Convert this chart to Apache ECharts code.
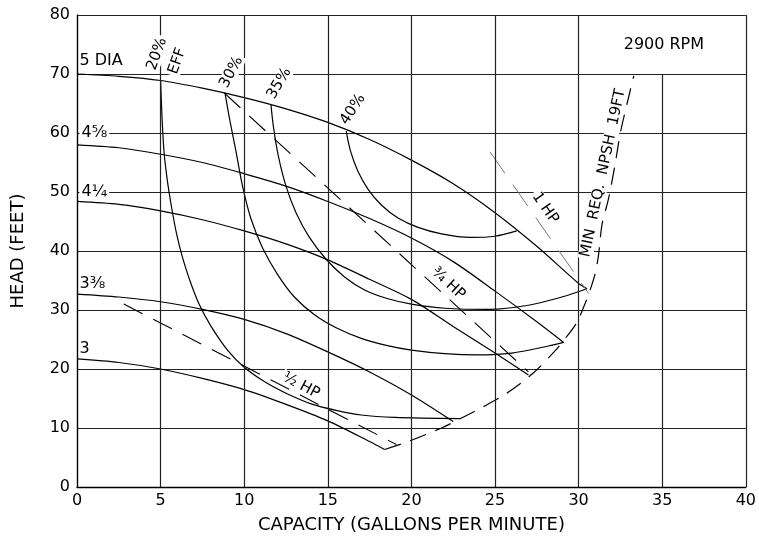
<!DOCTYPE html>
<html>
<head>
<meta charset="utf-8">
<script src="https://cdn.jsdelivr.net/npm/echarts@6/dist/echarts.min.js"></script>
<style>
  html, body { margin: 0; padding: 0; background: #fff; }
  #main { width: 759px; height: 539px; }
</style>
</head>
<body>
<div id="main"></div>
<script>
// head curves per impeller diameter [gpm, feet]
var dia5 = [[0, 70], [2.5, 69.6], [5, 68.9], [7.5, 67.6], [10, 66], [12.5, 64.1], [15, 61.8], [17.5, 58.9], [20, 55.4], [22.5, 51.4], [25, 46.5], [27.5, 40.8], [30, 34.5], [30.5, 33.6]];
var dia458 = [[0, 58], [2.5, 57.5], [5, 56.4], [7.5, 55], [10, 53.1], [12.5, 51], [15, 48.4], [17.5, 45.5], [20, 42.2], [22.5, 38.2], [25, 33.2], [27.5, 28], [29.1, 24.5]];
var dia414 = [[0, 48.4], [2.5, 47.9], [5, 46.8], [7.5, 45.3], [10, 43.4], [12.5, 41.2], [15, 38.5], [17.5, 35.2], [20, 31.8], [22.5, 27.2], [25, 22.7], [27, 19]];
var dia338 = [[0, 32.7], [2.5, 32.2], [5, 31.4], [7.5, 30.1], [10, 28.4], [12.5, 26], [15, 22.9], [17.5, 19.5], [20, 15.6], [22.5, 11.1]];
var dia3 = [[0, 21.7], [2.5, 21.1], [5, 20], [7.5, 18.4], [10, 16.5], [12.5, 14], [15, 11.2], [17.5, 7.7], [18.4, 6.35]];

// efficiency contours
var eff20 = [[5, 69], [5.08, 63], [5.2, 57], [5.4, 52], [5.65, 47.5], [5.95, 43], [6.3, 39], [6.75, 35], [7.3, 31], [8, 27.3], [9, 23.2], [10, 20.3], [11.3, 17.7], [12.5, 15.9], [14, 14.1], [15.5, 13], [17, 12.2], [19, 11.8], [22.9, 11.6]];
var eff30 = [[8.85, 66.8], [9.15, 62], [9.5, 57], [9.9, 51], [10.4, 45.5], [11.1, 40.5], [12, 36], [13, 32.2], [14.2, 29.2], [15.5, 27], [17, 25.2], [18.5, 24], [20, 23.2], [22, 22.6], [24, 22.4], [26, 22.7], [28.2, 23.9], [29.1, 24.5]];
var eff35 = [[11.6, 64.8], [11.75, 61], [12.05, 56], [12.5, 51], [13.1, 46.5], [13.9, 42.3], [14.9, 38.6], [16, 35.6], [17.2, 33.4], [18.6, 31.9], [20, 31], [22, 30.3], [24.7, 30.1], [27, 30.8], [29, 32.2], [30.5, 33.6]];
var eff40 = [[16.1, 60.3], [16.35, 57], [16.8, 53.5], [17.4, 50.5], [18.2, 47.8], [19.2, 45.6], [20.4, 44], [21.8, 42.9], [23.5, 42.3], [25, 42.5], [26.3, 43.4]];

// horsepower lines
var hpHalf = [[2.8, 31], [19.1, 7.2]];
var hpThreeQuarter = [[8.8, 66.8], [27, 19.5]];
var hpOne = [[24.7, 56.8], [30.6, 32.8]];

// min required NPSH
var npsh = [[18.4, 6.35], [19.8, 7.7], [21.8, 10], [23, 11.7], [24.3, 13.6], [25.6, 15.7], [27.2, 19.1], [28.6, 23.1], [29.4, 25.9], [29.9, 27.9], [30.4, 31.2], [30.7, 33.5], [31, 36.3], [31.2, 39.5], [31.4, 44.5], [31.8, 49], [32.2, 55], [32.5, 60.1], [32.9, 65], [33.3, 69.7]];

// axis ticks
var xTicks = [5, 10, 15, 20, 25, 30, 35, 40];

(function () {
  'use strict';

  var chart = echarts.init(document.getElementById('main'));
  var FONT = 'DejaVu Sans';

  function curve(data, extra) {
    var s = {
      type: 'line',
      data: data,
      showSymbol: false,
      symbol: 'none',
      smooth: 0.3,
      silent: true,
      animation: false,
      lineStyle: { color: '#000', width: 1.2 }
    };
    if (extra) {
      for (var k in extra) s[k] = extra[k];
    }
    return s;
  }

  //vertical grid lines (the x=35 one stops under the rpm box)
  var vLines = xTicks.map(function (v) {
    return [{ coord: [v, 0] }, { coord: [v, v === 35 ? 70 : 80] }];
  });

  var series = [
    curve(dia5, {
      markLine: {
        silent: true,
        symbol: ['none', 'none'],
        label: { show: false },
        lineStyle: { color: '#222', width: 1.2, type: 'solid' },
        data: vLines,
        animation: false
      }
    }),
    curve(dia458),
    curve(dia414),
    curve(dia338),
    curve(dia3),
    curve(eff20),
    curve(eff30),
    curve(eff35),
    curve(eff40),
    curve(hpHalf, { smooth: false, lineStyle: { color: '#000', width: 1.1, type: [21, 12] } }),
    curve(hpThreeQuarter, { smooth: false, lineStyle: { color: '#000', width: 1.1, type: [22, 12] } }),
    curve(hpOne, { smooth: false, lineStyle: { color: '#777', width: 1, type: [26, 14] } }),
    curve(npsh, { lineStyle: { color: '#000', width: 1.2, type: [17, 10] } })
  ];

  var option = {
    backgroundColor: '#fff',
    animation: false,
    grid: { left: 77, right: 12, top: 15, bottom: 46 },
    xAxis: {
      type: 'value',
      min: 0,
      max: 40,
      interval: 5,
      name: 'CAPACITY (GALLONS PER MINUTE)',
      nameLocation: 'middle',
      nameGap: 29,
      nameTextStyle: { fontFamily: FONT, fontSize: 18, color: '#000', verticalAlign: 'top' },
      axisLine: { show: true, lineStyle: { color: '#000', width: 1.4 } },
      axisTick: { show: false },
      axisLabel: { fontFamily: FONT, fontSize: 16, color: '#000', margin: 6 },
      splitLine: { show: false }
    },
    yAxis: {
      type: 'value',
      min: 0,
      max: 80,
      interval: 10,
      name: 'HEAD (FEET)',
      nameLocation: 'middle',
      nameRotate: 90,
      nameGap: 50,
      nameTextStyle: { fontFamily: FONT, fontSize: 18, color: '#000' },
      axisLine: { show: true, lineStyle: { color: '#000', width: 1.4 } },
      axisTick: { show: false },
      axisLabel: { fontFamily: FONT, fontSize: 16, color: '#000', margin: 7 },
      splitLine: { show: true, lineStyle: { color: '#222', width: 1.2 } }
    },
    series: series
  };

  chart.setOption(option);

  //annotations placed through the axes
  var notes = [
    { t: '5 DIA', at: [0.15, 72.2], align: 'left', rot: 0, size: 16 },
    { t: '4⅝', at: [0.15, 60], align: 'left', rot: 0, size: 16, bg: true },
    { t: '4¼', at: [0.15, 50], align: 'left', rot: 0, size: 16, bg: true },
    { t: '3⅜', at: [0.15, 34.4], align: 'left', rot: 0, size: 16 },
    { t: '3', at: [0.15, 23.5], align: 'left', rot: 0, size: 16 },
    { t: '2900 RPM', at: [35.1, 74.9], align: 'center', rot: 0, size: 16 },
    { t: '20%', at: [4.78, 73.4], align: 'center', rot: 70, size: 15, bg: true },
    { t: 'EFF', at: [6.0, 72.2], align: 'center', rot: 70, size: 15, bg: true },
    { t: '30%', at: [9.23, 70.3], align: 'center', rot: 62, size: 15, bg: true },
    { t: '35%', at: [12.1, 68.4], align: 'center', rot: 60, size: 15, bg: true },
    { t: '40%', at: [16.5, 64], align: 'center', rot: 57, size: 15 },
    { t: '1 HP', at: [28.0, 47.3], align: 'center', rot: -55, size: 15, bg: true },
    { t: '¾ HP', at: [22.2, 34.5], align: 'center', rot: -43, size: 15, bg: true },
    { t: '½ HP', at: [13.4, 17.2], align: 'center', rot: -28, size: 15, bg: true },
    { t: 'MIN  REQ.  NPSH  19FT', at: [31.46, 53.2], align: 'center', rot: 78, size: 15, bg: true }
  ];

  var graphics = notes.map(function (n) {
    var p = chart.convertToPixel({ gridIndex: 0 }, n.at);
    return {
      type: 'text',
      x: p[0],
      y: p[1],
      rotation: n.rot * Math.PI / 180,
      z: 100,
      silent: true,
      style: {
        text: n.t,
        fill: '#000',
        font: n.size + 'px "' + FONT + '"',
        textAlign: n.align,
        align: n.align,
        textVerticalAlign: 'middle',
        verticalAlign: 'middle',
        backgroundColor: n.bg ? '#fff' : null,
        padding: n.bg ? [0, 2] : 0
      }
    };
  });

  chart.setOption({ graphic: graphics });
})();
</script>
</body>
</html>
